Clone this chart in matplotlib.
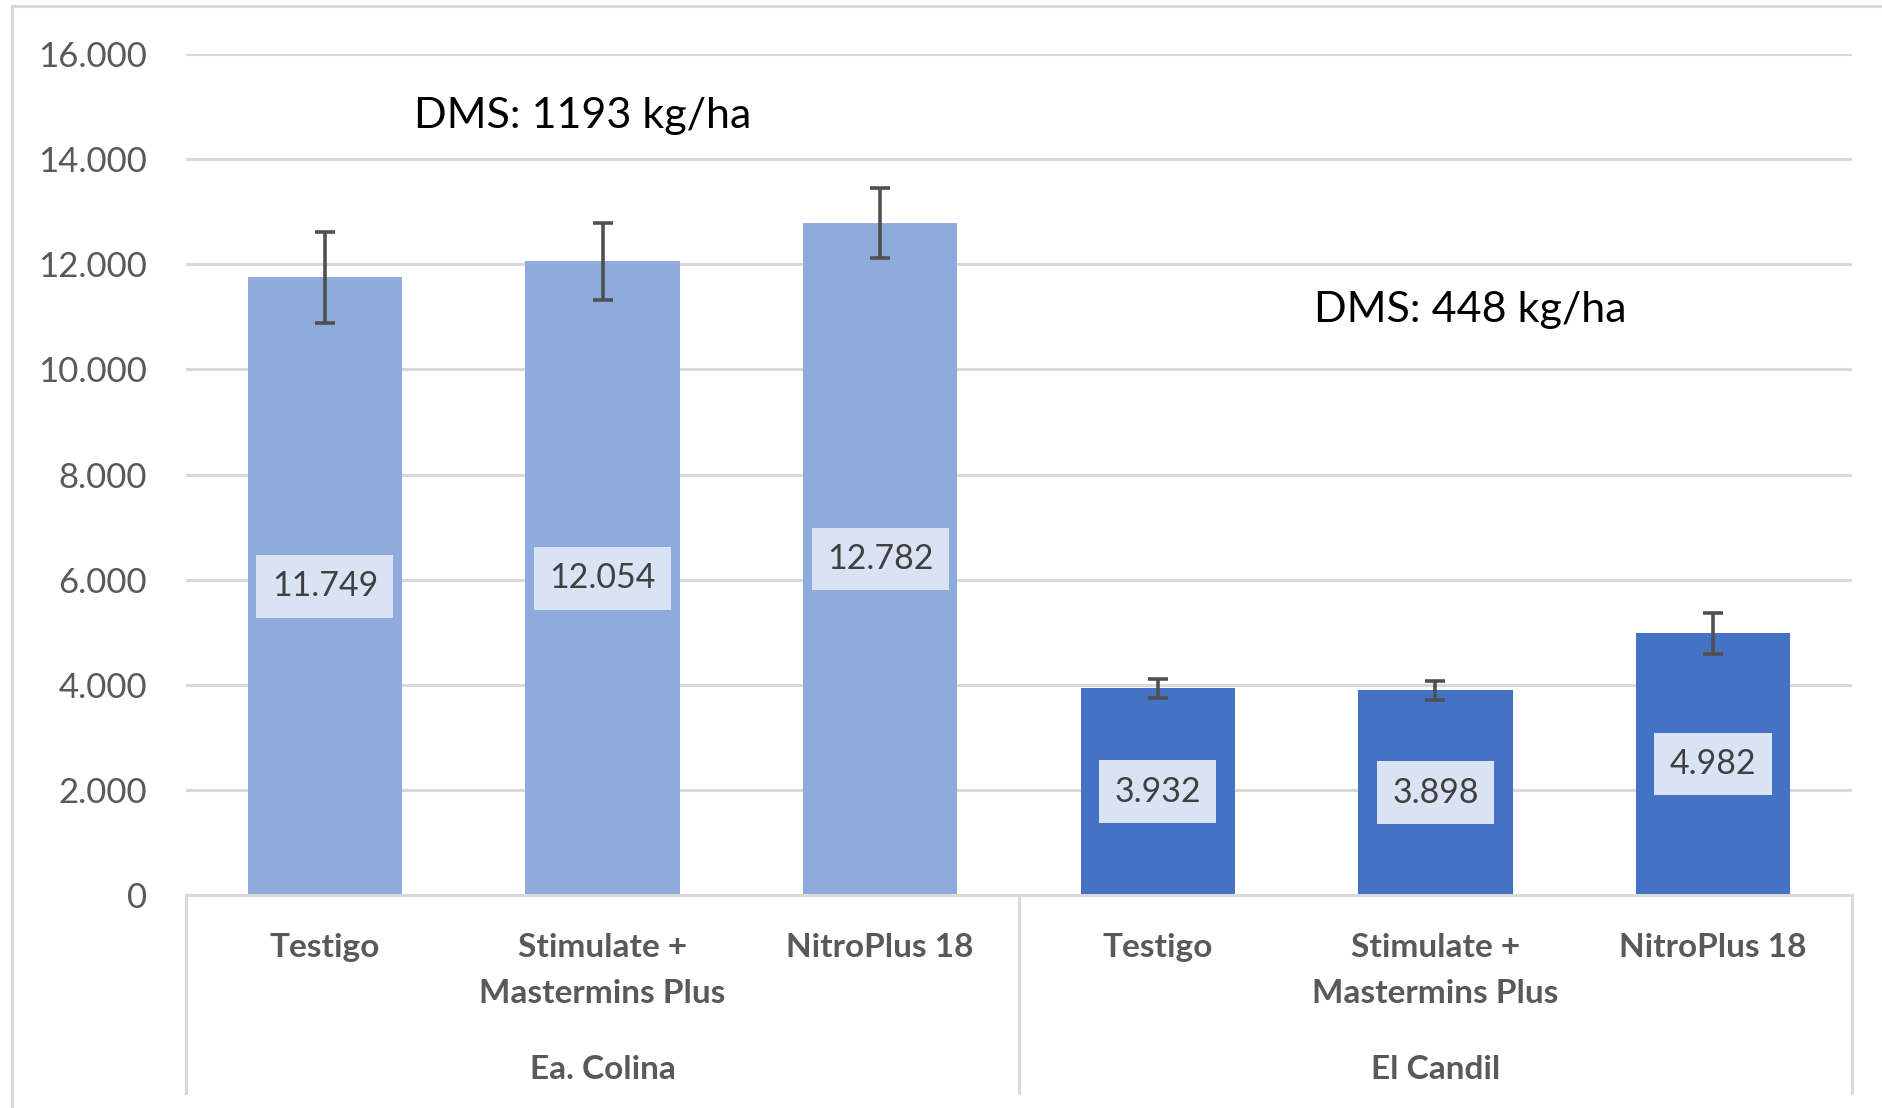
import matplotlib
matplotlib.use("Agg")
import matplotlib.pyplot as plt

plt.rcParams['font.family'] = ['Lato', 'DejaVu Sans']

# data
groups = ["Ea. Colina", "El Candil"]
treatments = ["Testigo", "Stimulate +\nMastermins Plus", "NitroPlus 18"]
colina_vals = [11749, 12054, 12782]
candil_vals = [3932, 3898, 4982]
colina_err = [870, 730, 660]
candil_err = [185, 180, 390]
dms_labels = ["DMS: 1193 kg/ha", "DMS: 448 kg/ha"]

light = "#8FAADC"
dark = "#4472C4"
label_bg = "#DAE3F3"
txt_gray = "#595959"
grid_gray = "#D9D9D9"

fig = plt.figure(figsize=(18.83, 11.08), dpi=100)
ax = fig.add_axes([0.0988, 0.1922, 0.8847, 0.7591])

values = colina_vals + candil_vals
errs = colina_err + candil_err
colors = [light] * 3 + [dark] * 3
xs = list(range(len(values)))

ax.bar(xs, values, width=0.555, color=colors, zorder=2)
ax.errorbar(xs, values, yerr=errs, fmt='none', ecolor="#505050",
            elinewidth=2.6, capsize=7, capthick=2.6, zorder=3)

for x, v in zip(xs, values):
    s = f"{v:,}".replace(",", ".")
    ax.text(x, v / 2, s, ha='center', va='center', fontsize=24.5,
            color="#404040", zorder=4,
            bbox=dict(boxstyle='square,pad=0.45', fc=label_bg, ec='none'))

ax.set_xlim(-0.5, 5.5)
ax.set_ylim(0, 16000)
ax.set_yticks(range(0, 16001, 2000))
ax.set_yticklabels([f"{t:,}".replace(",", ".") for t in range(0, 16001, 2000)])
ax.tick_params(axis='y', length=0, labelsize=25, labelcolor=txt_gray, pad=28)
ax.tick_params(axis='x', length=0, labelbottom=False)
ax.grid(axis='y', color=grid_gray, linewidth=2.2, zorder=0)
for sp in ['top', 'right', 'left']:
    ax.spines[sp].set_visible(False)
ax.spines['bottom'].set_color(grid_gray)
ax.spines['bottom'].set_linewidth(2.2)

# category labels and group labels
tr = ax.get_xaxis_transform()
for g, name in enumerate(groups):
    for i, t in enumerate(treatments):
        ax.text(g * 3 + i, -0.045, t, transform=tr, ha='center', va='top',
                fontsize=24, fontweight='bold', color=txt_gray,
                linespacing=1.72, clip_on=False)
    ax.text(g * 3 + 1, -0.207, name, transform=tr, ha='center', va='center',
            fontsize=24, fontweight='bold', color=txt_gray, clip_on=False)

for sx in [-0.5, 2.5, 5.5]:
    ax.plot([sx, sx], [0, -0.235], transform=tr, color=grid_gray,
            linewidth=2.2, clip_on=False)

# DMS annotations
ax.text(0.93, 14811, dms_labels[0], ha='center', va='center', fontsize=31,
        color='black')
ax.text(4.125, 11131, dms_labels[1], ha='center', va='center', fontsize=31,
        color='black')

# outer chart border
fig.add_artist(plt.Line2D([12 / 1883, 12 / 1883], [0, 1 - 6 / 1108],
                          transform=fig.transFigure, color=grid_gray, lw=2.2))
fig.add_artist(plt.Line2D([12 / 1883, 1], [1 - 6 / 1108, 1 - 6 / 1108],
                          transform=fig.transFigure, color=grid_gray, lw=2.2))

fig.savefig("out.png", dpi=100)
